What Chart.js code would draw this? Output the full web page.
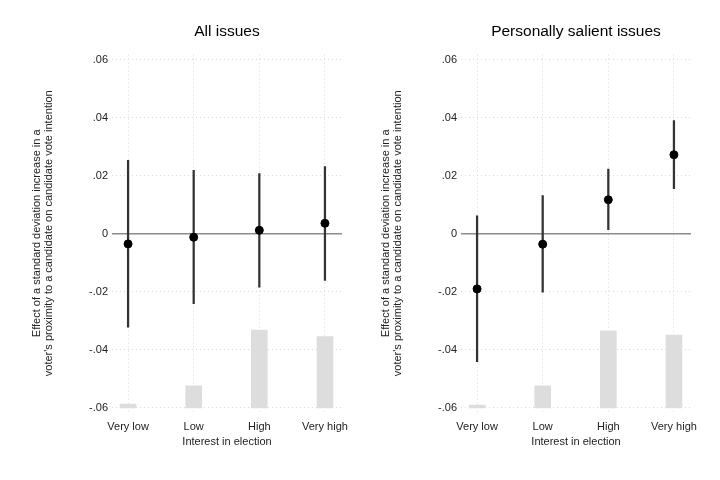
<!DOCTYPE html>
<html>
<head>
<meta charset="utf-8">
<script src="https://cdn.jsdelivr.net/npm/chart.js@4/dist/chart.umd.min.js"></script>
<style>
  body { margin: 0; background: #fff; }
  .panel { position: absolute; top: 0; width: 360px; height: 480px; }
</style>
</head>
<body>
<div class="panel" style="left:0"><canvas id="left"></canvas></div>
<div class="panel" style="left:349px"><canvas id="right"></canvas></div>
<script>
// categories and tick labels
const categories = ["Very low", "Low", "High", "Very high"];
const yTickValues = [-0.06, -0.04, -0.02, 0, 0.02, 0.04, 0.06];
const yTickLabels = ["-.06", "-.04", "-.02", "0", ".02", ".04", ".06"];

// All issues
const allEst   = [-0.0035, -0.0012, 0.0012, 0.0036];
const allLower = [-0.0322, -0.0241, -0.0184, -0.0161];
const allUpper = [0.0253, 0.0218, 0.0207, 0.0231];
const allHist  = [-0.0587, -0.0524, -0.0332, -0.0354];

// Personally salient issues
const salEst   = [-0.0190, -0.0036, 0.0117, 0.0272];
const salLower = [-0.0441, -0.0201, 0.0014, 0.0155];
const salUpper = [0.0062, 0.0131, 0.0223, 0.0390];
const salHist  = [-0.0590, -0.0524, -0.0334, -0.0349];

const histBase = -0.06;
const xMin = 0.755, xMax = 4.26;

const font = "'Liberation Sans', Arial, sans-serif";
Chart.defaults.font.family = font;
Chart.defaults.color = "#222";

function makeChart(id, title, est, lower, upper, hist) {
  new Chart(document.getElementById(id), {
    type: "bar",
    data: {
      datasets: [
        {
          type: "scatter",
          data: est.map((v, i) => ({ x: i + 1, y: v })),
          backgroundColor: "#000",
          borderColor: "#000",
          pointRadius: 4,
          order: 0
        },
        {
          type: "line",
          data: [{ x: xMin, y: 0 }, { x: xMax, y: 0 }],
          borderColor: "#8c8c8c",
          borderWidth: 1.5,
          pointRadius: 0,
          order: 2
        },
        {
          data: lower.map((v, i) => ({ x: i + 1, y: [v, upper[i]] })),
          backgroundColor: "#333",
          barThickness: 1.6,
          grouped: false,
          order: 1
        },
        {
          data: hist.map((v, i) => ({ x: i + 1, y: [histBase, v] })),
          backgroundColor: "#dddddd",
          barThickness: 16,
          grouped: false,
          order: 3
        }
      ]
    },
    options: {
      responsive: true,
      maintainAspectRatio: false,
      animation: false,
      layout: { padding: { left: 0, right: 18, top: 0, bottom: 28 } },
      plugins: {
        legend: { display: false },
        tooltip: { enabled: false },
        title: {
          display: true,
          text: title,
          fullSize: false,
          color: "#000",
          font: { size: 15.5, weight: "normal" },
          padding: { top: 22, bottom: 14 }
        }
      },
      scales: {
        x: {
          type: "linear",
          min: xMin,
          max: xMax,
          offset: false,
          afterBuildTicks: s => { s.ticks = categories.map((c, i) => ({ value: i + 1 })); },
          afterFit: s => { s.height = 40; },
          ticks: {
            callback: (v) => categories[Math.round(v) - 1],
            font: { size: 11 },
            padding: 8,
            maxRotation: 0
          },
          grid: { color: "#d9d9d9", lineWidth: 1, drawTicks: false, offset: false },
          border: { display: false, dash: [1, 3] },
          title: {
            display: true,
            text: "Interest in election",
            font: { size: 11 },
            padding: { top: 0, bottom: 3 }
          }
        },
        y: {
          min: -0.0614,
          max: 0.0617,
          afterBuildTicks: s => { s.ticks = yTickValues.map(v => ({ value: v })); },
          afterFit: s => { s.width = 112; },
          ticks: {
            callback: (v) => yTickLabels[yTickValues.findIndex(t => Math.abs(t - v) < 1e-9)],
            font: { size: 11 },
            padding: 4
          },
          grid: {
            color: c => (c.tick && c.tick.value === 0 ? "rgba(0,0,0,0)" : "#d9d9d9"),
            lineWidth: 1,
            drawTicks: false
          },
          border: { display: false, dash: [1, 3] },
          title: {
            display: true,
            text: ["Effect of a standard deviation increase in a",
                   "voter's proximity to a candidate on candidate vote intention"],
            font: { size: 11, lineHeight: 1.1 },
            padding: { top: 31, bottom: 0 }
          }
        }
      }
    }
  });
}

makeChart("left", "All issues", allEst, allLower, allUpper, allHist);
makeChart("right", "Personally salient issues", salEst, salLower, salUpper, salHist);
</script>
</body>
</html>
